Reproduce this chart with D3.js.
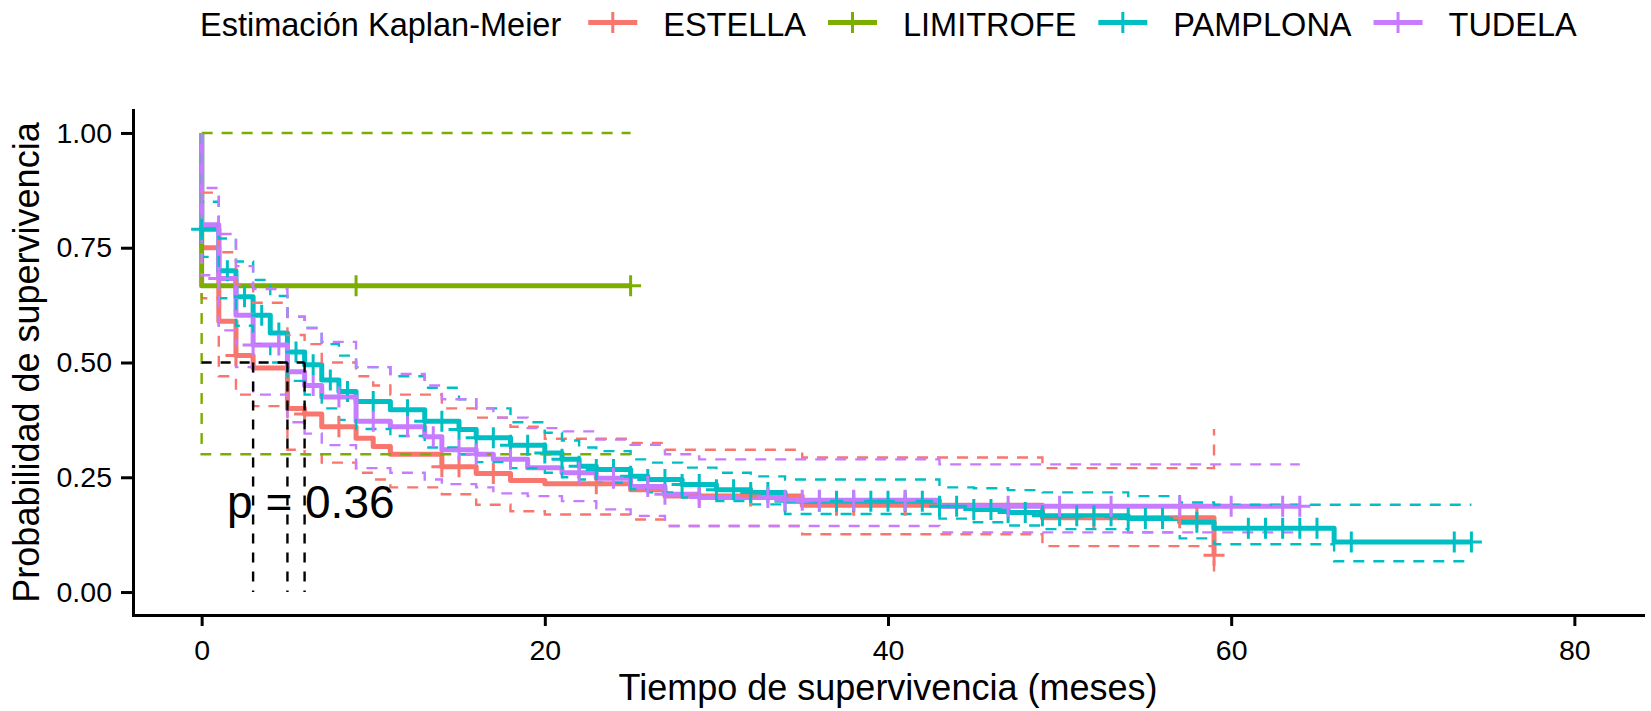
<!DOCTYPE html>
<html><head><meta charset="utf-8">
<script src="https://cdn.jsdelivr.net/npm/d3@7"></script>
<style>
html,body{margin:0;padding:0;background:#fff;}
svg{display:block;font-family:"Liberation Sans",Arial,Helvetica,sans-serif;}
</style></head><body>
<svg id="chart" width="1651" height="711"></svg>
<script>
// ---------------- data ----------------
const groupNames = ["ESTELLA", "LIMITROFE", "PAMPLONA", "TUDELA"];
const legendTitle = "Estimación Kaplan-Meier";

const estellaTime  = [0, 1, 2, 3, 5, 6, 7, 9, 10, 11, 14, 16, 18, 20, 25, 27, 35, 49, 59];
const estellaSurv  = [0.75, 0.59, 0.515, 0.488, 0.40, 0.388, 0.36, 0.335, 0.317, 0.30, 0.273, 0.258, 0.243, 0.236, 0.223, 0.209, 0.189, 0.162, 0.08];
const estellaUpper = [0.87, 0.74, 0.67, 0.63, 0.56, 0.54, 0.50, 0.47, 0.45, 0.43, 0.40, 0.38, 0.36, 0.334, 0.325, 0.31, 0.293, 0.27, 0.355];
const estellaLower = [0.64, 0.47, 0.43, 0.405, 0.31, 0.30, 0.282, 0.26, 0.245, 0.228, 0.213, 0.19, 0.176, 0.169, 0.158, 0.144, 0.126, 0.10, 0.028];
const estellaCensor = [2, 6, 8, 14, 15, 17, 23, 29, 32, 37, 38, 41, 52, 57, 58, 59];
const estellaEnd = 59;

const limitrofeTime  = [0];
const limitrofeSurv  = [0.667];
const limitrofeUpper = [1.0];
const limitrofeLower = [0.30];
const limitrofeCensor = [9, 25];
const limitrofeEnd = 25;

const pamplonaTime  = [0, 1, 2, 3, 4, 5, 6, 7, 8, 9, 11, 13, 15, 16, 18, 20, 21, 22, 23, 25, 26, 28, 30, 32, 34, 43, 45, 47, 49, 54, 57, 59, 66];
const pamplonaSurv  = [0.79, 0.70, 0.643, 0.603, 0.564, 0.523, 0.495, 0.462, 0.437, 0.415, 0.397, 0.372, 0.354, 0.336, 0.32, 0.303, 0.289, 0.274, 0.267, 0.252, 0.245, 0.234, 0.223, 0.217, 0.198, 0.187, 0.18, 0.173, 0.166, 0.16, 0.152, 0.139, 0.109];
const pamplonaUpper = [0.85, 0.77, 0.72, 0.68, 0.645, 0.60, 0.575, 0.54, 0.515, 0.49, 0.47, 0.445, 0.42, 0.40, 0.37, 0.347, 0.33, 0.315, 0.307, 0.289, 0.282, 0.271, 0.26, 0.252, 0.245, 0.228, 0.226, 0.222, 0.217, 0.209, 0.195, 0.19, 0.19];
const pamplonaLower = [0.73, 0.64, 0.58, 0.54, 0.50, 0.46, 0.43, 0.40, 0.375, 0.355, 0.34, 0.315, 0.30, 0.283, 0.27, 0.26, 0.25, 0.245, 0.238, 0.224, 0.217, 0.206, 0.198, 0.191, 0.17, 0.16, 0.152, 0.145, 0.137, 0.13, 0.117, 0.104, 0.067];
const pamplonaCensor = [0, 1.5, 2.5, 3.5, 4.5, 5.5, 6.5, 7.5, 8.5, 10, 12, 13, 14, 15, 16, 17, 18, 19, 20, 21, 22, 23, 24, 25, 26, 27, 28, 29, 30, 31, 32, 33, 34, 36, 37, 38, 39, 40, 41, 42, 43, 44, 45, 46, 47, 48, 49, 50, 51, 52, 53, 54, 55, 56, 58, 61, 62, 63, 64, 65, 67, 73, 74];
const pamplonaEnd = 74;

const tudelaTime  = [0, 1, 2, 3, 5, 6, 7, 9, 11, 13, 14, 16, 17, 19, 21, 23, 25, 27, 29, 34, 43];
const tudelaSurv  = [0.80, 0.683, 0.603, 0.538, 0.48, 0.45, 0.425, 0.372, 0.36, 0.338, 0.31, 0.30, 0.289, 0.271, 0.26, 0.248, 0.23, 0.213, 0.206, 0.2, 0.187];
const tudelaUpper = [0.88, 0.78, 0.71, 0.66, 0.60, 0.575, 0.545, 0.49, 0.475, 0.45, 0.42, 0.40, 0.38, 0.357, 0.35, 0.332, 0.321, 0.30, 0.289, 0.289, 0.278];
const tudelaLower = [0.69, 0.57, 0.49, 0.43, 0.37, 0.345, 0.32, 0.27, 0.26, 0.245, 0.235, 0.228, 0.215, 0.209, 0.198, 0.18, 0.166, 0.144, 0.144, 0.144, 0.13];
const tudelaCensor = [1, 3, 4.5, 6.5, 8, 10, 12, 13.5, 15, 16, 18, 22, 24, 26, 27, 29, 33, 34, 35, 36, 38, 41, 47, 50, 53, 57, 60, 63, 64];
const tudelaEnd = 64;

const xTicks = [0, 20, 40, 60, 80];
const yTicks = [0, 0.25, 0.50, 0.75, 1.00];
const medianTimes = [3, 5, 6];
const medianLevel = 0.5;
const pValueLabel = "p = 0.36";
const pValuePos = [1.48, 0.2];
const xTitle = "Tiempo de supervivencia (meses)";
const yTitle = "Probabilidad de supervivencia";

// ---------------- styles ----------------
const palette = ["#F8766D", "#7CAE00", "#00BFC4", "#C77CFF"];

const groups = [
  {time: estellaTime, surv: estellaSurv, upper: estellaUpper, lower: estellaLower, censor: estellaCensor, end: estellaEnd},
  {time: limitrofeTime, surv: limitrofeSurv, upper: limitrofeUpper, lower: limitrofeLower, censor: limitrofeCensor, end: limitrofeEnd},
  {time: pamplonaTime, surv: pamplonaSurv, upper: pamplonaUpper, lower: pamplonaLower, censor: pamplonaCensor, end: pamplonaEnd},
  {time: tudelaTime, surv: tudelaSurv, upper: tudelaUpper, lower: tudelaLower, censor: tudelaCensor, end: tudelaEnd}
].map((g, i) => Object.assign(g, {name: groupNames[i], color: palette[i]}));

// ---------------- layout ----------------
const svg = d3.select("#chart");
svg.append("rect").attr("width", 1651).attr("height", 711).attr("fill", "#fff");

const x = d3.scaleLinear().domain([-4, 84]).range([133, 1643]);
const y = d3.scaleLinear().domain([-0.05, 1.05]).range([615, 110]);

const stepLine = d3.line().x(d => x(d[0])).y(d => y(d[1])).curve(d3.curveStepAfter);
function stepPoints(g, vals) {
  const pts = [[0, 1]];
  g.time.forEach((t, i) => pts.push([t, vals[i]]));
  pts.push([g.end, vals[vals.length - 1]]);
  return pts;
}
function survAt(g, t) {
  let v = 1;
  g.time.forEach((tt, i) => { if (tt <= t) v = g.surv[i]; });
  return v;
}

const plot = svg.append("g");

// main KM curves
plot.selectAll("path.km").data(groups).join("path")
  .attr("class", "km")
  .attr("d", g => stepLine(stepPoints(g, g.surv)))
  .attr("fill", "none").attr("stroke", g => g.color)
  .attr("stroke-width", 5).attr("stroke-linejoin", "round");

// confidence intervals (dashed steps)
["upper", "lower"].forEach(k => {
  plot.selectAll("path.ci-" + k).data(groups).join("path")
    .attr("class", "ci-" + k)
    .attr("d", g => stepLine(stepPoints(g, g[k])))
    .attr("fill", "none").attr("stroke", g => g.color)
    .attr("stroke-width", 2.4).attr("stroke-dasharray", "11,9");
});

// censor marks
const cross = "M-10.5,0H10.5M0,-10.5V10.5";
groups.forEach(g => {
  plot.selectAll(null).data(g.censor).join("path")
    .attr("d", cross)
    .attr("transform", t => `translate(${x(t)},${y(survAt(g, t))})`)
    .attr("fill", "none").attr("stroke", g.color).attr("stroke-width", 3);
});

// median lines
plot.append("line")
  .attr("x1", x(0)).attr("x2", x(d3.max(medianTimes)))
  .attr("y1", y(medianLevel)).attr("y2", y(medianLevel))
  .attr("stroke", "#000").attr("stroke-width", 2.4).attr("stroke-dasharray", "10,9");
plot.selectAll("line.med").data(medianTimes).join("line")
  .attr("class", "med")
  .attr("x1", d => x(d)).attr("x2", d => x(d))
  .attr("y1", y(medianLevel)).attr("y2", y(0))
  .attr("stroke", "#000").attr("stroke-width", 2.4).attr("stroke-dasharray", "10,9");

// p value
plot.append("text")
  .attr("x", x(pValuePos[0])).attr("y", y(pValuePos[1]) + 18)
  .attr("font-size", 46).attr("fill", "#000")
  .text(pValueLabel);

// axes
const yAxis = d3.axisLeft(y).tickValues(yTicks).tickFormat(d3.format(".2f")).tickSize(12).tickSizeOuter(0).tickPadding(9);
const xAxis = d3.axisBottom(x).tickValues(xTicks).tickFormat(d3.format("d")).tickSize(11).tickSizeOuter(0).tickPadding(13.5);

const gy = svg.append("g").attr("transform", "translate(133,0)").call(yAxis);
const gx = svg.append("g").attr("transform", "translate(0,615)").call(xAxis);
[gx, gy].forEach(g => {
  g.select(".domain").attr("stroke", "#000").attr("stroke-width", 3).attr("stroke-linecap", "square");
  g.selectAll(".tick line").attr("stroke", "#000").attr("stroke-width", 3);
  g.selectAll(".tick text").attr("fill", "#000").attr("font-size", 28.5)
    .attr("font-family", "'Liberation Sans',Arial,sans-serif");
});

// axis titles
svg.append("text").attr("x", (133 + 1643) / 2).attr("y", 700)
  .attr("text-anchor", "middle").attr("font-size", 36).attr("fill", "#000").text(xTitle);
svg.append("text").attr("transform", `translate(39,${(110 + 615) / 2}) rotate(-90)`)
  .attr("text-anchor", "middle").attr("font-size", 36).attr("fill", "#000").text(yTitle);

// legend
const legend = svg.append("g");
const lt = legend.append("text").attr("x", 200).attr("y", 35.5)
  .attr("font-size", 32.5).attr("fill", "#000").text(legendTitle);
let cx = 200 + lt.node().getComputedTextLength() + 27;
groups.forEach(g => {
  legend.append("line").attr("x1", cx).attr("x2", cx + 49).attr("y1", 22.5).attr("y2", 22.5)
    .attr("stroke", g.color).attr("stroke-width", 5);
  legend.append("path").attr("d", cross).attr("transform", `translate(${cx + 24.5},22.5)`)
    .attr("fill", "none").attr("stroke", g.color).attr("stroke-width", 3);
  const t = legend.append("text").attr("x", cx + 75).attr("y", 35.5)
    .attr("font-size", 32.5).attr("fill", "#000").text(g.name);
  cx = cx + 75 + t.node().getComputedTextLength() + 22;
});
</script>
</body></html>
